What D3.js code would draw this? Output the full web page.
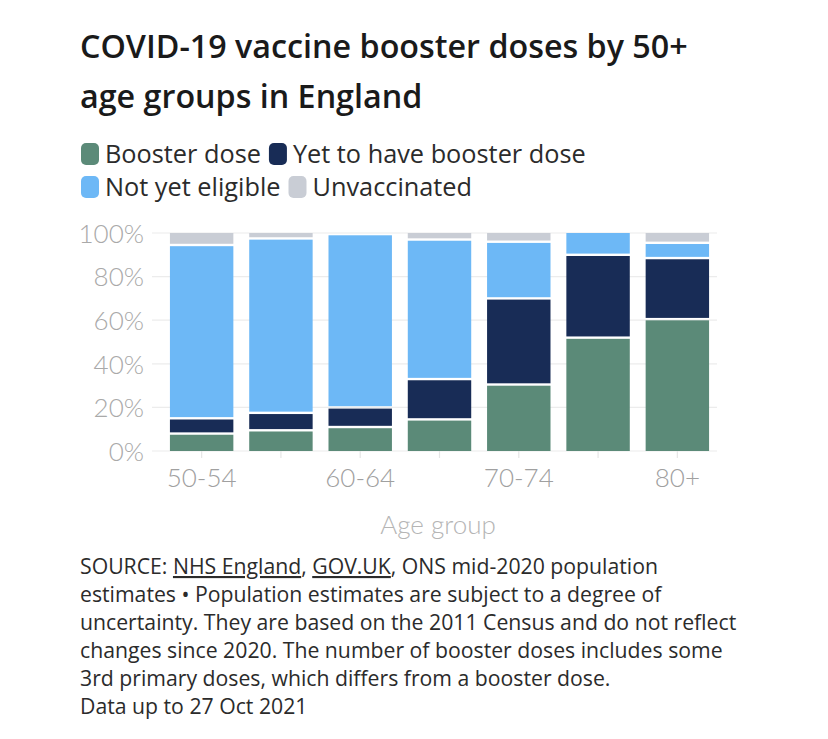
<!DOCTYPE html>
<html><head><meta charset="utf-8">
<script src="https://cdn.jsdelivr.net/npm/d3@7"></script>
<style>
html,body{margin:0;padding:0;background:#fff;}
svg{display:block;}
</style></head>
<body>
<script>
const categories = ["50-54","55-59","60-64","65-69","70-74","75-79","80+"];
const tickLabels = ["50-54","60-64","70-74","80+"];
const booster     = [8, 9.5, 11, 14.5, 30.5, 52, 60.5];
const yetToHave   = [7, 8, 9, 18.5, 39.5, 38, 28];
const notEligible = [79.5, 80, 79.5, 64, 26, 10, 7];
const unvaccinated= [5.5, 2.5, 0.5, 3, 4, 0, 4.5];
const seriesNames = ["Booster dose","Yet to have booster dose","Not yet eligible","Unvaccinated"];
const yTicks = [0,20,40,60,80,100];
const colors = ["#5b8a78","#182c56","#6db8f6","#c9cdd5"];

const W = 828, H = 739;
const svg = d3.select("body").append("svg").attr("width", W).attr("height", H);

function fit(sel, target){
  const w = sel.node().getComputedTextLength();
  const fs = parseFloat(sel.attr("font-size"));
  sel.attr("font-size", fs * target / w);
  return fs * target / w;
}

// Title
const tFont = "'Open Sans', sans-serif";
const t1 = svg.append("text").attr("x",80).attr("y",58).attr("font-family",tFont)
  .attr("font-weight",600).attr("font-size",29).attr("fill","#1a1a1a")
  .text("COVID-19 vaccine booster doses by 50+");
const tfs = fit(t1, 608);
svg.append("text").attr("x",80).attr("y",108).attr("font-family",tFont)
  .attr("font-weight",600).attr("font-size",tfs).attr("fill","#1a1a1a")
  .text("age groups in England");

// Legend
const legRows = [[0,1],[2,3]];
const legY = [154, 187];
legRows.forEach((row, ri) => {
  let x = 81;
  row.forEach(si => {
    svg.append("rect").attr("x",x).attr("y",legY[ri]-11).attr("width",18).attr("height",22)
      .attr("rx",5).attr("fill",colors[si]);
    x += 24;
    const t = svg.append("text").attr("x",x).attr("y",legY[ri]+9).attr("font-family",tFont)
      .attr("font-size",25.3).attr("fill","#2b2b2b").text(seriesNames[si]);
    x += t.node().getComputedTextLength() + 8;
  });
});

// Chart
const y = d3.scaleLinear().domain([0,100]).range([451, 233]);
const x = d3.scaleBand().domain(categories).range([162, 717]).paddingInner(0.2).paddingOuter(0.1);

const axFont = "Lato, 'Open Sans', sans-serif";
// gridlines
svg.append("g").selectAll("line").data(yTicks).join("line")
  .attr("x1",152).attr("x2",717).attr("y1",d=>y(d)).attr("y2",d=>y(d))
  .attr("stroke","#ececec").attr("stroke-width",1.2);

// y axis labels
const yAxis = d3.axisLeft(y).tickValues(yTicks).tickFormat(d=>d+"%").tickSize(0).tickPadding(0);
const yg = svg.append("g").attr("transform","translate(144,0)").call(yAxis);
yg.select(".domain").remove();
yg.selectAll("text").attr("font-family",axFont).attr("font-weight",300).attr("font-size",26)
  .attr("fill","#a9a9a9").attr("dy","0.36em");

// stacked bars
const table = categories.map((c,i)=>({cat:c, s0:booster[i], s1:yetToHave[i], s2:notEligible[i], s3:unvaccinated[i]}));
const stack = d3.stack().keys(["s0","s1","s2","s3"])(table);
const gap = 1.2;
stack.forEach((layer, li) => {
  svg.append("g").attr("fill", colors[li]).selectAll("rect").data(layer.filter(d=>d[1]-d[0]>0)).join("rect")
    .attr("x", d=>x(d.data.cat))
    .attr("width", x.bandwidth())
    .attr("y", d=> y(d[1]) + (d[1] >= 100 ? 0 : gap))
    .attr("height", d=> Math.max(0, (y(d[0]) - (d[0] <= 0 ? 0 : gap)) - (y(d[1]) + (d[1] >= 100 ? 0 : gap))));
});

// x axis
const xAxis = d3.axisBottom(x).tickSize(7).tickPadding(11).tickFormat(d=> tickLabels.includes(d) ? d : "");
const xg = svg.append("g").attr("transform","translate(0,451)").call(xAxis);
xg.select(".domain").remove();
xg.selectAll(".tick line").attr("stroke","#e6e6e6").attr("stroke-width",1.2);
xg.selectAll("text").attr("font-family",axFont).attr("font-weight",300).attr("font-size",26).attr("fill","#a0a0a0");

svg.append("text").attr("x",438).attr("y",534).attr("text-anchor","middle")
  .attr("font-family",axFont).attr("font-weight",300).attr("font-size",26).attr("fill","#b5b5b5")
  .text("Age group");

// footnote
const fFont = "'Open Sans', sans-serif";
const f1 = svg.append("text").attr("x",80).attr("y",574).attr("font-family",fFont)
  .attr("font-size",19).attr("fill","#2b2b2b");
f1.append("tspan").text("SOURCE: ");
f1.append("tspan").attr("text-decoration","underline").text("NHS England");
f1.append("tspan").text(", ");
f1.append("tspan").attr("text-decoration","underline").text("GOV.UK");
f1.append("tspan").text(", ONS mid-2020 population");
const ffs = fit(f1, 578);
const footLines = [
  "estimates \u2022 Population estimates are subject to a degree of",
  "uncertainty. They are based on the 2011 Census and do not reflect",
  "changes since 2020. The number of booster doses includes some",
  "3rd primary doses, which differs from a booster dose.",
  "Data up to 27 Oct 2021"
];
footLines.forEach((l,i)=>{
  svg.append("text").attr("x",80).attr("y",602 + i*28).attr("font-family",fFont)
    .attr("font-size",ffs).attr("fill","#2b2b2b").text(l);
});
</script>
</body></html>
